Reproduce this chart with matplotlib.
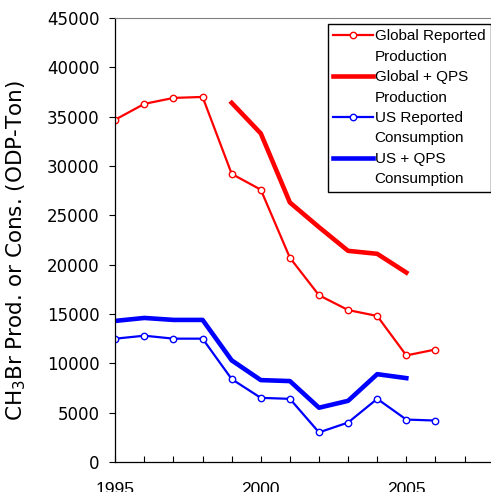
import matplotlib
matplotlib.use("Agg")
import matplotlib.pyplot as plt
from matplotlib.lines import Line2D
from matplotlib.ticker import MultipleLocator

plt.rcParams['font.family'] = ['Liberation Sans', 'DejaVu Sans']

# values
anos_glob = [1995, 1996, 1997, 1998, 1999, 2000, 2001, 2002, 2003, 2004, 2005, 2006]
glob_rep = [34700, 36300, 36900, 37000, 29200, 27600, 20700, 16900, 15400, 14800, 10800, 11400]

anos_qps = [1999, 2000, 2001, 2002, 2003, 2004, 2005]
glob_qps = [36400, 33300, 26300, 23800, 21400, 21100, 19200]

anos_us = [1995, 1996, 1997, 1998, 1999, 2000, 2001, 2002, 2003, 2004, 2005, 2006]
us_rep = [12500, 12800, 12500, 12500, 8400, 6500, 6400, 3000, 4000, 6400, 4300, 4200]

anos_usqps = [1995, 1996, 1997, 1998, 1999, 2000, 2001, 2002, 2003, 2004, 2005]
us_qps = [14300, 14600, 14400, 14400, 10300, 8300, 8200, 5500, 6200, 8900, 8500]

labels = [('Global Reported', 'Production'), ('Global + QPS', 'Production'),
          ('US Reported', 'Consumption'), ('US + QPS', 'Consumption')]

fig = plt.figure(figsize=(4.91, 4.92), dpi=100)
ax = fig.add_axes([0.2348, 0.061, 0.7652, 0.9024])

l1, = ax.plot(anos_glob, glob_rep, color='#ff0000', lw=1.6, marker='o', ms=4.6,
              mfc='white', mec='#ff0000', mew=1.0)
l2, = ax.plot(anos_qps, glob_qps, color='#ff0000', lw=3.3)
l3, = ax.plot(anos_us, us_rep, color='#0000ff', lw=1.6, marker='o', ms=4.6,
              mfc='white', mec='#0000ff', mew=1.0)
l4, = ax.plot(anos_usqps, us_qps, color='#0000ff', lw=3.3)

ax.set_xlim(1995, 2007.91)
ax.set_ylim(0, 45000)
ax.xaxis.set_major_locator(MultipleLocator(5))
ax.xaxis.set_minor_locator(MultipleLocator(1))
ax.yaxis.set_major_locator(MultipleLocator(5000))

ax.tick_params(axis='x', which='both', direction='in', length=4.5, width=0.8,
               labelsize=12.5, pad=14.5)
ax.tick_params(axis='y', direction='out', length=4.5, width=0.8, labelsize=12, pad=7)
for t in ax.get_yticklabels():
    t.set_family('DejaVu Sans')

ax.spines['right'].set_visible(False)
ax.spines['top'].set_color('#808080')
ax.spines['top'].set_linewidth(0.8)
ax.spines['left'].set_linewidth(0.9)
ax.spines['bottom'].set_linewidth(0.9)

ax.set_ylabel('CH$_3$Br Prod. or Cons. (ODP-Ton)', fontsize=15.5, family='DejaVu Sans')
ax.yaxis.set_label_coords(-0.232, 0.477)

# two-line legend entries with the handle on the first line
vazio = Line2D([], [], color='none')
handles, texts = [], []
for h, (a, b) in zip([l1, l2, l3, l4], labels):
    handles += [h, vazio]
    texts += [a, b]

leg = fig.legend(handles, texts, loc='upper right',
                 bbox_to_anchor=(490.5 / 491, 1 - 24 / 492),
                 fontsize=11, frameon=True, fancybox=False, edgecolor='black',
                 framealpha=1, handlelength=2.6, handletextpad=0.1,
                 labelspacing=0.42, borderpad=0.35, borderaxespad=0)
leg.get_frame().set_linewidth(1.0)

fig.savefig('out.png', dpi=100)
